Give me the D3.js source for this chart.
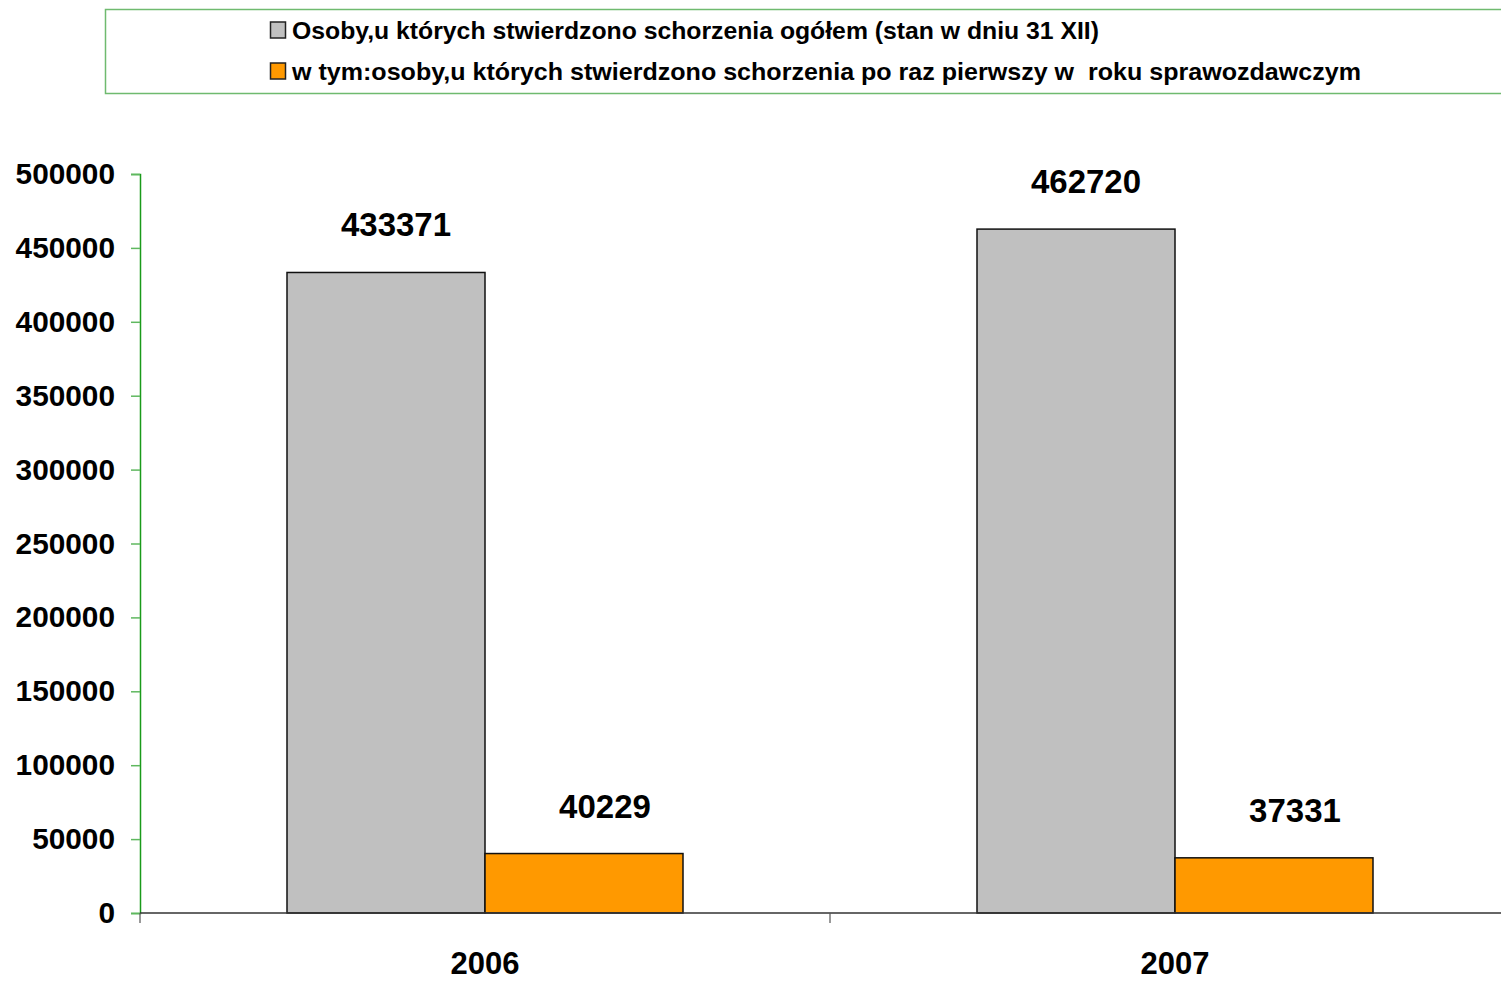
<!DOCTYPE html>
<html><head><meta charset="utf-8">
<script src="https://cdn.jsdelivr.net/npm/d3@7"></script>
<style>body{margin:0;background:#fff;}svg{display:block;font-family:"Liberation Sans",Arial,sans-serif;font-weight:bold;}</style>
</head><body>
<svg id="c" width="1501" height="981"></svg>
<script>
const categories = ["2006", "2007"];
const seriesNames = [
  "Osoby,u których stwierdzono schorzenia ogółem (stan w dniu 31 XII)",
  "w tym:osoby,u których stwierdzono schorzenia po raz pierwszy w  roku sprawozdawczym"
];
const seriesColors = ["#c0c0c0", "#ff9900"];
const totalValues = [433371, 462720];
const firstTimeValues = [40229, 37331];
const yTicks = [0, 50000, 100000, 150000, 200000, 250000, 300000, 350000, 400000, 450000, 500000];

(function () {
const svg = d3.select("#c");
const mLeft = 140, mRight = 1520, mTop = 174, mBottom = 913;
const y = d3.scaleLinear().domain([0, 500000]).range([mBottom, mTop]);
const x0 = d3.scaleBand().domain(categories).range([mLeft, mRight]).padding(0);
const groupW = 396;
const x1 = d3.scaleBand().domain([0, 1])
  .range([(x0.bandwidth() - groupW) / 2, (x0.bandwidth() + groupW) / 2]).padding(0);

const data = categories.map((c, i) => ({cat: c, vals: [totalValues[i], firstTimeValues[i]]}));

// Legend
const lg = svg.append("g");
lg.append("rect").attr("x", 105.5).attr("y", 9.5).attr("width", 1420).attr("height", 84)
  .attr("fill", "none").attr("stroke", "#6fba6f").attr("stroke-width", 1.5);
const legendWidths = [807, 1069];
seriesNames.forEach((n, i) => {
  const yy = 30 + i * 41;
  lg.append("rect").attr("x", 270.5).attr("y", yy - 8).attr("width", 15).attr("height", 16)
    .attr("fill", seriesColors[i]).attr("stroke", "#222").attr("stroke-width", 1.5);
  lg.append("text").attr("x", 292).attr("y", yy).attr("dy", "0.36em")
    .attr("font-size", 24.5).attr("fill", "#000")
    .attr("textLength", legendWidths[i]).attr("lengthAdjust", "spacingAndGlyphs")
    .style("white-space", "pre").text(n);
});

// Bars
const g = svg.append("g");
data.forEach(d => {
  d.vals.forEach((v, s) => {
    const bx = x0(d.cat) + x1(s);
    g.append("rect").attr("x", bx).attr("y", y(v)).attr("width", x1.bandwidth())
      .attr("height", y(0) - y(v)).attr("fill", seriesColors[s])
      .attr("stroke", "#111").attr("stroke-width", 1.5);
    g.append("text").attr("x", bx + x1.bandwidth() / 2 + (s === 0 ? 10 : 21))
      .attr("y", y(v) - 36).attr("text-anchor", "middle")
      .attr("font-size", 33).attr("fill", "#000").text(v);
  });
});

// Y axis
const ya = svg.append("g").attr("transform", `translate(${mLeft},0)`)
  .call(d3.axisLeft(y).tickValues(yTicks).tickSize(9).tickPadding(16).tickFormat(d3.format("d")));
ya.select(".domain").attr("stroke", "#1a9a1a").attr("stroke-width", 1.5);
ya.selectAll(".tick line").attr("stroke", "#5fb85f").attr("stroke-width", 1.5);
ya.selectAll(".tick text").attr("font-size", 29.8).attr("font-family", "'Liberation Sans',Arial,sans-serif")
  .attr("font-weight", "bold").attr("fill", "#000");

// X axis
const xa = svg.append("g").attr("transform", `translate(0,${mBottom})`);
xa.append("line").attr("x1", mLeft).attr("x2", 1501).attr("y1", 0).attr("y2", 0)
  .attr("stroke", "#333").attr("stroke-width", 1.5);
categories.forEach(c => {
  xa.append("line").attr("x1", x0(c)).attr("x2", x0(c)).attr("y1", 0).attr("y2", 10)
    .attr("stroke", "#555").attr("stroke-width", 1.2);
  xa.append("text").attr("x", x0(c) + x0.bandwidth() / 2).attr("y", 61)
    .attr("text-anchor", "middle").attr("font-size", 31).attr("fill", "#000").text(c);
});
})();
</script>
</body></html>
